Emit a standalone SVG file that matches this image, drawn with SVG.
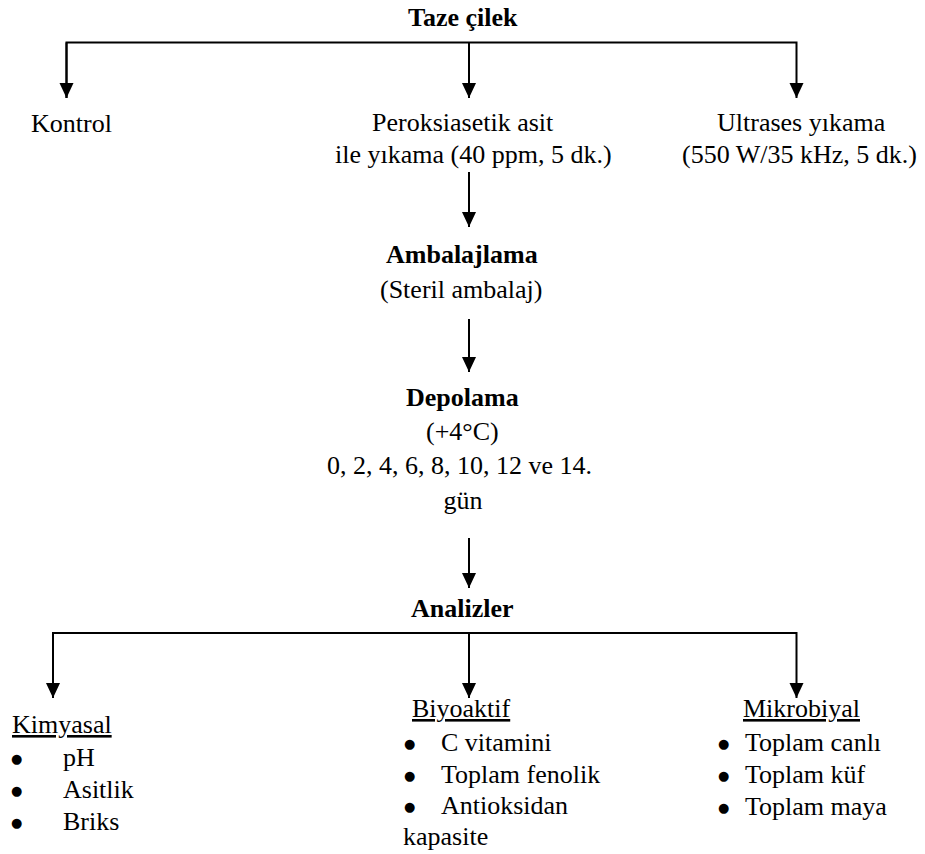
<svg xmlns="http://www.w3.org/2000/svg" width="925" height="854" viewBox="0 0 925 854">
<style>
text { font-family: "Liberation Serif", "Times New Roman", serif; font-size: 26px; fill: #000; }
.b { font-weight: bold; }
.u { text-decoration: underline; }
.c { text-anchor: middle; }
.bl { font-family: "DejaVu Sans", sans-serif; font-size: 13px; }
.ln { stroke: #000; stroke-width: 2; fill: none; }
</style>
<defs>
<marker id="ah" markerWidth="15" markerHeight="15" viewBox="0 0 15 15" refX="15" refY="7.5" orient="auto" markerUnits="userSpaceOnUse">
<path d="M0,0.5 L15,7.5 L0,14.5 Z" fill="#000"/>
</marker>
</defs>
<rect width="925" height="854" fill="#fff"/>
<g id="connectors">
<path class="ln" d="M66.5,98 V42.5 H796.5 V98" marker-end="url(#ah)"/>
<path class="ln" d="M66.5,42.5 V98" marker-end="url(#ah)"/>
<path class="ln" d="M469,42.5 V98" marker-end="url(#ah)"/>
<path class="ln" d="M469,172 V227" marker-end="url(#ah)"/>
<path class="ln" d="M469,319 V372" marker-end="url(#ah)"/>
<path class="ln" d="M469,538 V588" marker-end="url(#ah)"/>
<path class="ln" d="M53,698 V633 H796.5 V698" marker-end="url(#ah)"/>
<path class="ln" d="M53,633 V698" marker-end="url(#ah)"/>
<path class="ln" d="M469,633 V698" marker-end="url(#ah)"/>
</g>
<g id="taze"><text class="b" x="408" y="26">Taze çilek</text></g>
<g id="kontrol"><text x="31" y="132">Kontrol</text></g>
<g id="peroksi">
<text x="372" y="131">Peroksiasetik asit</text>
<text x="335" y="163">ile yıkama (40 ppm, 5 dk.)</text>
</g>
<g id="ultrases">
<text x="717" y="131">Ultrases yıkama</text>
<text x="682" y="163">(550 W/35 kHz, 5 dk.)</text>
</g>
<g id="ambalaj">
<text class="b" x="386" y="263">Ambalajlama</text>
<text x="380" y="298">(Steril ambalaj)</text>
</g>
<g id="depolama">
<text class="b" x="406" y="406">Depolama</text>
<text x="426" y="440">(+4°C)</text>
<text x="327" y="474">0, 2, 4, 6, 8, 10, 12 ve 14.</text>
<text class="c" x="463" y="509">gün</text>
</g>
<g id="analizler"><text class="b" x="411" y="617">Analizler</text></g>
<g id="kimyasal">
<text class="u" x="12" y="733">Kimyasal</text>
<text class="bl" x="11" y="763">●</text><text x="63" y="766">pH</text>
<text class="bl" x="11" y="795">●</text><text x="63" y="798">Asitlik</text>
<text class="bl" x="11" y="827">●</text><text x="63" y="830">Briks</text>
</g>
<g id="biyoaktif">
<text class="u" x="412" y="717">Biyoaktif</text>
<text class="bl" x="404" y="748">●</text><text x="441" y="751">C vitamini</text>
<text class="bl" x="404" y="780">●</text><text x="441" y="783">Toplam fenolik</text>
<text class="bl" x="404" y="811">●</text><text x="441" y="814">Antioksidan</text>
<text x="403" y="845">kapasite</text>
</g>
<g id="mikrobiyal">
<text class="u" x="743" y="717">Mikrobiyal</text>
<text class="bl" x="718" y="748">●</text><text x="745" y="751">Toplam canlı</text>
<text class="bl" x="718" y="780">●</text><text x="745" y="783">Toplam küf</text>
<text class="bl" x="718" y="812">●</text><text x="745" y="815">Toplam maya</text>
</g>
</svg>
